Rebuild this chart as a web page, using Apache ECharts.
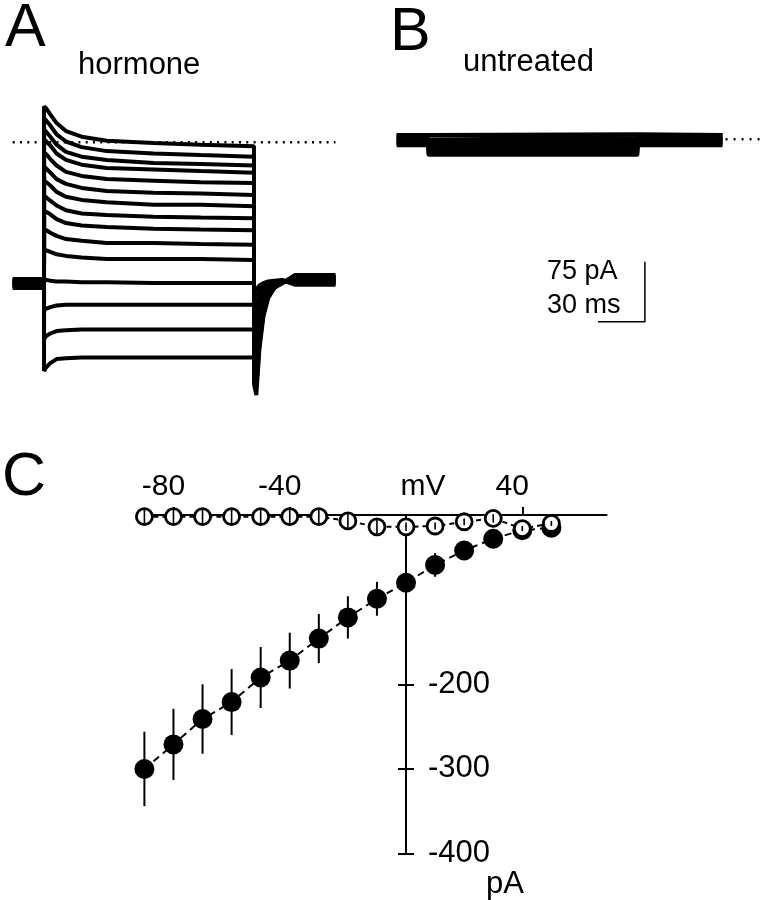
<!DOCTYPE html>
<html><head><meta charset="utf-8">
<script src="https://cdn.jsdelivr.net/npm/echarts@6/dist/echarts.min.js"></script>
<style>html,body{margin:0;padding:0;background:#fff}#c{width:760px;height:900px}</style>
</head><body><div id="c"></div>
<script>
const FONT = "'Liberation Sans', Arial, Helvetica, sans-serif";

// ---------- Panel A: hormone-treated current traces (time in ms, current in pA) ----------
const traceTimesA = [0, 20, 20.01, 21.5, 24, 28, 34, 44, 60, 90, 120, 154, 154.01, 155.5, 157.5, 160, 163, 167, 172, 180, 206];
const hormoneTraces = [
  [-171,-171, 45, 42, 35, 24, 14, 7, 2, -1, -3, -5, -302, -316, -258, -218, -195, -182, -176, -166, -166],
  [-172,-172, 30, 27, 21, 10, 1, -6, -11, -14, -16, -18, -293, -306, -253, -215, -194, -182, -176, -167, -167],
  [-172,-172, 16, 13, 7, -3, -12, -18, -22, -26, -27, -29, -284, -297, -247, -212, -192, -181, -176, -168, -168],
  [-173,-173, 4, 1, -4, -14, -22, -28, -32, -34, -36, -38, -276, -287, -241, -209, -190, -180, -175, -169, -169],
  [-174,-174, -13, -15, -21, -29, -37, -42, -46, -48, -50, -51, -267, -278, -235, -206, -189, -179, -175, -170, -170],
  [-175,-175, -30, -33, -38, -46, -52, -57, -61, -63, -64, -66, -258, -268, -230, -202, -187, -178, -175, -170, -170],
  [-175,-175, -48, -50, -54, -62, -68, -72, -75, -78, -78, -80, -250, -258, -224, -200, -186, -178, -174, -171, -171],
  [-176,-176, -67, -69, -73, -79, -85, -89, -91, -93, -94, -95, -241, -249, -218, -197, -184, -178, -174, -172, -172],
  [-177,-177, -86, -87, -90, -96, -101, -104, -106, -108, -109, -110, -233, -239, -212, -194, -182, -177, -174, -173, -173],
  [-178,-178, -109, -110, -113, -117, -121, -123, -126, -126, -127, -128, -224, -230, -206, -190, -182, -176, -174, -174, -174],
  [-178,-178, -134, -135, -137, -140, -142, -144, -146, -146, -146, -147, -215, -220, -201, -187, -180, -175, -174, -174, -174],
  [-179,-179, -172, -172, -173, -174, -174, -175, -175, -176, -176, -176, -206, -210, -195, -184, -178, -174, -173, -175, -175],
  [-180,-180, -210, -208, -206, -204, -203, -203, -203, -203, -203, -203, -200, -201, -190, -182, -177, -174, -173, -176, -176],
  [-181,-181, -246, -242, -239, -236, -235, -234, -234, -234, -234, -234, -190, -192, -184, -178, -175, -174, -173, -177, -177],
  [-182,-182, -286, -281, -276, -271, -270, -269, -269, -269, -269, -269, -183, -184, -179, -176, -174, -173, -172, -178, -178]
];
const zeroLineA = [0, 206];

// ---------- Panel B: untreated current traces ----------
const traceTimesB = [0, 20, 20.01, 154, 154.01, 208];
const untreatedTraces = [
  [6, 6, 7, 7, 6, 6],
  [6, 6, 5, 5, 6, 6],
  [4, 4, 2, 2, 4, 4],
  [3, 3, 0, 0, 3, 3],
  [2, 2, -2, -2, 2, 2],
  [1, 1, -3, -3, 1, 1],
  [0, 0, -5, -5, 0, 0],
  [-1, -1, -6, -6, -1, -1],
  [-2, -2, -8, -8, -2, -2],
  [-2, -2, -10, -10, -2, -2],
  [-4, -4, -11, -11, -4, -4],
  [-5, -5, -13, -13, -5, -5],
  [-6, -6, -14, -14, -6, -6],
  [-6, -6, -17, -17, -6, -6],
  [-8, -8, -20, -20, -8, -8]
];
const zeroLineB = [210, 232];
const scaleBarMs = 30;
const scaleBarPa = 75;
const scaleBarLabels = ['75 pA', '30 ms'];

// ---------- Panel C: I-V relation ----------
const voltages = [-90, -80, -70, -60, -50, -40, -30, -20, -10, 0, 10, 20, 30, 40, 50];
const hormoneMean = [-300, -271, -241, -221, -192, -172, -146, -121, -99, -80, -59, -42, -28, -18, -15];
const hormoneSem = [44, 42, 41, 39, 36, 33, 29, 25, 20, 15, 14, 10, 8, 6, 5];
const untreatedMean = [-2, -2, -2, -2, -2, -2, -2, -7, -14, -14, -13, -8, -4, -16, -10];
const untreatedSem = [9, 9, 9, 9, 9, 9, 9, 8, 10, 5, 4, 4, 5, 3, 3];
const xTickValues = [-80, -40, 40];
const xLabelValues = [-80, -40, 0, 40];
const yTickValues = [-200, -300, -400];

// ---------- layout ----------
const kx = 47 / 30;   // px per ms
const ky = 60 / 75;   // px per pA
const A = { left: 12.7, zeroY: 142.3, tMax: 206, yMin: -328, yMax: 56 };
const B = { left: 396.7, zeroY: 139.3, tMax: 232, yMin: -240, yMax: 48 };
const C = { left: 144.4, top: 515, width: 462.2, height: 340 };
const barCorner = [158.5, -228];

const chart = echarts.init(document.getElementById('c'), null, { renderer: 'canvas' });

const series = [];
series.push({ type: 'line', xAxisIndex: 0, yAxisIndex: 0, data: zeroLineA.map(t => [t, 0]), showSymbol: false,
  lineStyle: { color: '#000', width: 2.4, type: [2, 5.3] }, z: 1, silent: true });
hormoneTraces.forEach(tr => series.push({ type: 'line', xAxisIndex: 0, yAxisIndex: 0,
  data: traceTimesA.map((t, i) => [t, tr[i]]), showSymbol: false, clip: false,
  lineStyle: { color: '#000', width: 4 }, z: 2, silent: true }));
series.push({ type: 'line', xAxisIndex: 1, yAxisIndex: 1, data: zeroLineB.map(t => [t, 0]), showSymbol: false,
  lineStyle: { color: '#000', width: 2.4, type: [2, 6] }, z: 1, silent: true, clip: false });
untreatedTraces.forEach(tr => series.push({ type: 'line', xAxisIndex: 1, yAxisIndex: 1,
  data: traceTimesB.map((t, i) => [t, tr[i]]), showSymbol: false, clip: false,
  lineStyle: { color: '#000', width: 3 }, z: 2, silent: true }));
series.push({ type: 'line', xAxisIndex: 1, yAxisIndex: 1, showSymbol: false, clip: false, silent: true,
  data: [[barCorner[0] - scaleBarMs, barCorner[1]], barCorner, [barCorner[0], barCorner[1] + scaleBarPa]],
  lineStyle: { color: '#000', width: 1.5 } });

function errRender(width) {
  return function (params, api) {
    const x = api.value(0), y = api.value(1), e = api.value(2);
    const p1 = api.coord([x, y + e]), p2 = api.coord([x, y - e]);
    return { type: 'line', shape: { x1: p1[0], y1: p1[1], x2: p2[0], y2: p2[1] },
      style: { stroke: '#000', lineWidth: width } };
  };
}
series.push({ type: 'custom', xAxisIndex: 2, yAxisIndex: 2, renderItem: errRender(2), z: 3, silent: true,
  data: voltages.map((v, i) => [v, hormoneMean[i], hormoneSem[i]]) });
series.push({ type: 'line', xAxisIndex: 2, yAxisIndex: 2, data: voltages.map((v, i) => [v, hormoneMean[i]]),
  symbol: 'circle', symbolSize: 20, clip: false, silent: true, z: 4,
  itemStyle: { color: '#000' }, lineStyle: { color: '#000', width: 2, type: [7, 5] } });
series.push({ type: 'line', xAxisIndex: 2, yAxisIndex: 2, data: voltages.map((v, i) => [v, untreatedMean[i]]),
  symbol: 'circle', symbolSize: 16, clip: false, silent: true, z: 5,
  itemStyle: { color: '#fff', borderColor: '#000', borderWidth: 2.8 }, lineStyle: { color: '#000', width: 2, type: [5, 4] } });
series.push({ type: 'custom', xAxisIndex: 2, yAxisIndex: 2, renderItem: errRender(1.6), z: 6, silent: true,
  data: voltages.map((v, i) => [v, untreatedMean[i], untreatedSem[i]]) });

const hiddenAxis = { show: false, splitLine: { show: false } };
const txt = (text, x, y, size) => ({ type: 'text', x, y, silent: true,
  style: { text, fill: '#000', font: size + 'px ' + FONT, align: 'left', verticalAlign: 'middle' } });

chart.setOption({
  animation: false,
  backgroundColor: '#fff',
  textStyle: { fontFamily: FONT },
  grid: [
    { left: A.left, top: A.zeroY - A.yMax * ky, width: A.tMax * kx, height: (A.yMax - A.yMin) * ky },
    { left: B.left, top: B.zeroY - B.yMax * ky, width: B.tMax * kx, height: (B.yMax - B.yMin) * ky },
    { left: C.left, top: C.top, width: C.width, height: C.height }
  ],
  xAxis: [
    Object.assign({ type: 'value', gridIndex: 0, min: 0, max: A.tMax }, hiddenAxis),
    Object.assign({ type: 'value', gridIndex: 1, min: 0, max: B.tMax }, hiddenAxis),
    { type: 'value', gridIndex: 2, min: -90, max: 69, position: 'top',
      axisLine: { onZero: false, lineStyle: { color: '#000', width: 2 } },
      splitLine: { show: false },
      axisTick: { customValues: xTickValues, length: 8, lineStyle: { color: '#000', width: 2 } },
      axisLabel: { customValues: xLabelValues, margin: 13, color: '#000', fontSize: 30, fontFamily: FONT,
        formatter: v => v === 0 ? '{m|mV}' : '{n|' + v + '}',
        rich: { n: { fontSize: 30, fontFamily: FONT, color: '#000', padding: [0, 20, 0, 0] },
                m: { fontSize: 30, fontFamily: FONT, color: '#000', padding: [0, 0, 0, 34] } } } }
  ],
  yAxis: [
    Object.assign({ type: 'value', gridIndex: 0, min: A.yMin, max: A.yMax }, hiddenAxis),
    Object.assign({ type: 'value', gridIndex: 1, min: B.yMin, max: B.yMax }, hiddenAxis),
    { type: 'value', gridIndex: 2, min: -400, max: 0, position: 'left',
      axisLine: { onZero: true, onZeroAxisIndex: 2, lineStyle: { color: '#000', width: 2 } },
      splitLine: { show: false },
      axisTick: { customValues: yTickValues, inside: false, length: 8, lineStyle: { color: '#000', width: 2 } },
      axisLabel: { customValues: yTickValues, inside: true, margin: 283.6, color: '#000', fontSize: 31, fontFamily: FONT,
        padding: [0, 0, 14, 0] },
      name: 'pA', nameLocation: 'start', nameGap: 10,
      nameTextStyle: { fontSize: 31, fontFamily: FONT, color: '#000', align: 'left', verticalAlign: 'top', padding: [0, 0, 0, 80] } },
    { type: 'value', gridIndex: 2, min: -400, max: 0, position: 'left',
      axisLine: { onZero: true, onZeroAxisIndex: 2, lineStyle: { color: '#000', width: 2 } },
      splitLine: { show: false },
      axisTick: { customValues: yTickValues, inside: true, length: 8, lineStyle: { color: '#000', width: 2 } },
      axisLabel: { show: false } }
  ],
  graphic: [
    txt('A', 5, 29, 61),
    txt('hormone', 78, 65, 31),
    txt('B', 390, 33, 61),
    txt('untreated', 463, 62, 31),
    txt(scaleBarLabels[0], 547, 272, 27),
    txt(scaleBarLabels[1], 547, 306, 27),
    txt('C', 2, 478, 61)
  ],
  series
});
</script></body></html>
